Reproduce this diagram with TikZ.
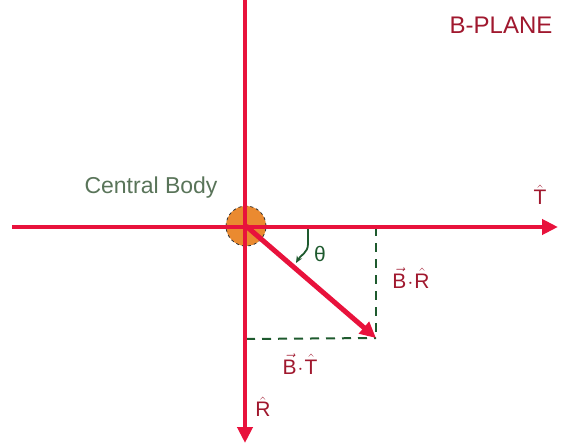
\documentclass[tikz,border=0pt]{standalone}
\usepackage{fontspec}
\setmainfont{Liberation Sans}
\usetikzlibrary{arrows.meta}
\definecolor{axisred}{HTML}{E8123C}
\definecolor{labelred}{HTML}{A0182E}
\definecolor{projgreen}{HTML}{1E5A2E}
\definecolor{bodyorange}{HTML}{EA8A30}
\begin{document}
\begin{tikzpicture}[x=1pt, y=-1pt, font=\fontsize{21}{24}\selectfont,
      axis/.style={draw=axisred, line width=4.5pt, -{Triangle[length=16pt,width=15pt]}},
      proj/.style={draw=projgreen, line width=2pt, dash pattern=on 9pt off 7pt},
      lbl/.style={text=labelred, inner sep=0pt}]
    \useasboundingbox (0,0) rectangle (562,444);
    \node[circle, draw=black!80, dashed, line width=0.8pt, fill=bodyorange, minimum size=40pt, inner sep=0pt] (body) at (246,226) {};
    \coordinate (west) at (12,227);
    \coordinate (east) at (558,227);
    \coordinate (north) at (245,0);
    \coordinate (south) at (245,443);
    \coordinate (tip) at (376,338);
    \coordinate (corner) at (376,227);
    \coordinate (foot) at (246,339);
    % projections
    \draw[proj] (corner) -- (tip);
    \draw[proj] (foot) -- (tip);
    % axes and B vector
    \draw[axis] (west) -- (east);
    \draw[axis] (north) -- (south);
    \draw[axis, line width=5pt] (body.center) -- (tip);
    % angle
    \coordinate (th1) at (308,229);
    \coordinate (th2) at (296,263);
    \draw[projgreen, line width=1.8pt, -{Stealth[length=7pt,width=6pt]}] (th1) -- (308,244) to[out=-90, in=60] (th2);
    \node[text=projgreen, font=\fontsize{21}{24}\selectfont] (theta) at (320,254) {θ};
    % labels
    \node[text=black!65!green!30!gray, font=\fontsize{23}{26}\selectfont] (cb) at (151,188) {Central Body};
    \node[lbl, font=\fontsize{24}{28}\selectfont] (plane) at (501,25) {B-PLANE};
    \node[lbl] (that) at (540,195) {$\hat{\hbox{T}}$};
    \node[lbl] (rhat) at (263,407) {$\hat{\hbox{R}}$};
    \node[lbl] (bdr) at (411,278) {$\vec{\hbox{B}}\!\cdot\!\hat{\hbox{R}}$};
    \node[lbl] (bdt) at (300,364) {$\vec{\hbox{B}}\!\cdot\!\hat{\hbox{T}}$};
\end{tikzpicture}
\end{document}
